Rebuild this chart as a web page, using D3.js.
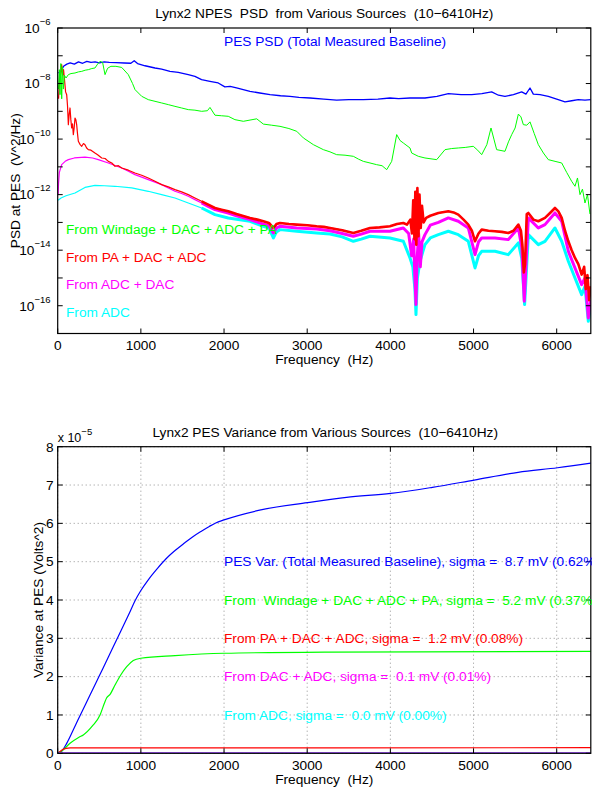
<!DOCTYPE html>
<html>
<head>
<meta charset="utf-8">
<script src="https://cdn.jsdelivr.net/npm/d3@7"></script>
<style>
html,body{margin:0;padding:0;background:#fff;}
svg{display:block;font-family:"Liberation Sans",Arial,Helvetica,sans-serif;}
text{white-space:pre;}
</style>
</head>
<body>
<div id="chart"></div>
<script>
// ---------------- DATA ----------------
// Top chart: PSD (V^2/Hz) vs frequency (Hz)
const pesPsdFreq = [10,40,70,110,150,200,250,300,350,400,450,500,560,620,700,800,880,920,960,1050,1170,1250,1350,1450,1570,1650,1730,1830,1930,2010,2073,2150,2312,2430,2553,2680,2793,2900,3034,3200,3354,3500,3675,3850,3995,4100,4236,4416,4560,4697,4850,4978,5100,5218,5300,5378,5480,5579,5630,5679,5719,5800,5899,6000,6100,6180,6260,6340,6410];
const pesPsd = [2.40e-8,2.82e-8,4.17e-8,5.01e-8,5.50e-8,5.01e-8,6.03e-8,5.37e-8,6.31e-8,5.75e-8,6.03e-8,5.50e-8,6.03e-8,5.75e-8,5.62e-8,5.50e-8,5.37e-8,6.61e-8,5.25e-8,4.37e-8,3.63e-8,3.31e-8,2.75e-8,2.51e-8,2.09e-8,1.82e-8,1.38e-8,1.20e-8,1.05e-8,7.59e-9,7.94e-9,6.92e-9,5.25e-9,4.57e-9,3.98e-9,3.63e-9,3.47e-9,3.16e-9,3.02e-9,2.75e-9,2.51e-9,2.63e-9,2.63e-9,2.75e-9,3.02e-9,2.88e-9,3.02e-9,3.02e-9,3.47e-9,4.37e-9,3.98e-9,3.98e-9,4.37e-9,5.01e-9,3.80e-9,3.47e-9,3.98e-9,5.01e-9,4.17e-9,6.92e-9,4.17e-9,3.98e-9,3.47e-9,2.75e-9,2.19e-9,2.40e-9,2.63e-9,2.51e-9,2.63e-9];

const windageFreq = [10,20,28,38,48,58,68,80,100,128,160,208,250,289,330,368,410,448,480,509,540,569,600,640,700,770,849,900,930,1010,1089,1170,1250,1330,1410,1490,1570,1650,1731,1800,1831,1891,1970,2051,2131,2232,2393,2473,2573,2673,2780,2874,2954,3074,3194,3274,3354,3455,3555,3615,3675,3755,3835,3900,3956,4016,4076,4116,4156,4236,4256,4336,4416,4557,4657,4737,4817,4900,4997,5050,5098,5160,5210,5245,5278,5378,5420,5459,5500,5539,5570,5599,5640,5679,5730,5779,5840,5899,5980,6060,6120,6180,6220,6250,6280,6310,6340,6370,6400];
const windagePsd = [6.31e-9,3.16e-8,3.98e-9,5.25e-8,2.82e-9,3.98e-8,6.31e-9,2.00e-8,1.58e-8,2.09e-8,2.29e-8,2.40e-8,2.63e-8,2.75e-8,3.02e-8,3.16e-8,3.47e-8,3.63e-8,5.01e-8,6.31e-8,5.75e-8,2.09e-8,3.55e-8,4.17e-8,4.17e-8,3.80e-8,2.09e-8,1.00e-8,6.03e-9,3.47e-9,2.63e-9,2.29e-9,2.00e-9,1.74e-9,1.51e-9,1.32e-9,1.15e-9,1.10e-9,1.00e-9,1.05e-9,1.38e-9,7.24e-10,6.92e-10,6.61e-10,5.01e-10,4.37e-10,5.37e-10,3.47e-10,3.16e-10,2.88e-10,2.40e-10,1.91e-10,1.10e-10,6.31e-11,4.17e-11,3.47e-11,2.75e-11,2.63e-11,2.40e-11,1.91e-11,1.58e-11,1.38e-11,1.20e-11,1.10e-11,7.94e-12,1.58e-11,1.45e-10,8.91e-11,7.24e-11,4.79e-11,3.16e-11,2.40e-11,2.09e-11,1.82e-11,4.17e-11,4.57e-11,4.79e-11,5.01e-11,5.50e-11,3.98e-11,2.75e-11,6.31e-11,2.51e-10,1.00e-10,4.17e-11,3.63e-11,7.94e-11,1.45e-10,2.51e-10,7.94e-10,6.31e-10,3.31e-10,3.16e-10,4.17e-10,1.58e-10,6.31e-11,3.16e-11,1.82e-11,1.58e-11,1.38e-11,6.31e-12,3.02e-12,2.00e-12,3.98e-12,1.00e-12,1.58e-12,5.01e-13,1.00e-12,2.00e-13];

const paFreq = [10,25,40,48,60,70,80,95,108,118,128,138,148,158,168,178,188,198,208,218,228,238,248,270,289,310,328,348,368,400,448,480,529,570,609,650,689,730,770,850,929,1010,1089,1170,1250,1330,1410,1490,1570,1650,1731,1810,1891,1970,2051,2150,2312,2400,2473,2540,2593,2630,2673,2780,2874,3000,3114,3200,3274,3420,3555,3650,3755,3870,3995,4080,4156,4200,4240,4260,4275,4290,4300,4312,4325,4338,4350,4365,4380,4400,4430,4480,4577,4697,4760,4817,4880,4937,4980,5018,5060,5098,5180,5258,5340,5418,5480,5539,5570,5587,5605,5619,5640,5659,5720,5779,5859,5920,5979,6020,6060,6100,6140,6180,6220,6260,6300,6330,6350,6370,6390,6410];
const paPsd = [2.82e-9,1.58e-8,2.51e-8,4.79e-8,2.00e-8,3.16e-8,1.58e-8,5.01e-9,3.98e-9,1.58e-9,3.31e-10,7.94e-10,1.32e-9,5.01e-10,2.51e-10,3.55e-10,1.45e-10,2.51e-10,5.75e-10,5.01e-10,3.31e-10,1.58e-10,8.32e-11,6.31e-11,5.50e-11,6.92e-11,6.31e-11,4.79e-11,4.17e-11,3.98e-11,3.16e-11,2.75e-11,2.09e-11,2.00e-11,1.58e-11,1.38e-11,1.05e-11,1.10e-11,9.12e-12,7.59e-12,6.03e-12,5.01e-12,3.98e-12,3.02e-12,2.29e-12,1.91e-12,1.51e-12,1.26e-12,1.00e-12,7.59e-13,5.75e-13,4.37e-13,3.31e-13,2.88e-13,2.51e-13,2.00e-13,1.45e-13,1.26e-13,1.10e-13,9.55e-14,6.31e-14,8.71e-14,9.55e-14,8.71e-14,8.32e-14,7.94e-14,7.24e-14,6.92e-14,6.31e-14,5.25e-14,4.17e-14,5.01e-14,6.31e-14,6.61e-14,7.24e-14,8.71e-14,9.55e-14,8.32e-14,1.26e-13,3.98e-14,6.31e-13,2.51e-14,1.26e-12,1.58e-14,1.74e-12,3.16e-14,1.00e-12,6.31e-14,3.98e-13,1.00e-13,1.45e-13,1.74e-13,2.19e-13,2.51e-13,2.29e-13,1.91e-13,1.26e-13,8.32e-14,5.01e-14,2.09e-14,3.98e-14,5.50e-14,5.01e-14,4.79e-14,4.57e-14,4.17e-14,5.01e-14,8.32e-14,5.01e-14,1.58e-14,1.58e-15,3.16e-15,2.00e-13,2.19e-13,1.26e-13,1.10e-13,1.45e-13,2.19e-13,3.31e-13,2.51e-13,1.45e-13,5.01e-14,2.09e-14,1.00e-14,5.25e-15,3.16e-15,1.32e-15,2.51e-15,3.98e-16,1.26e-15,1.58e-16,5.01e-16];

const dacFreq = [5,10,20,48,90,128,200,328,420,488,609,689,770,850,929,1010,1089,1170,1250,1330,1410,1490,1570,1650,1731,1810,1891,1970,2051,2150,2312,2473,2540,2593,2630,2673,2874,3114,3274,3420,3555,3650,3755,3995,4156,4220,4256,4280,4295,4308,4320,4340,4360,4380,4416,4480,4577,4697,4817,4937,5018,5060,5098,5258,5418,5539,5580,5610,5630,5659,5779,5859,5979,6060,6140,6220,6300,6340,6380,6410];
const dacPsd = [1.00e-12,2.51e-12,6.31e-12,1.20e-11,1.58e-11,1.82e-11,2.09e-11,2.24e-11,2.09e-11,1.82e-11,1.38e-11,1.12e-11,9.12e-12,6.92e-12,5.25e-12,4.27e-12,3.47e-12,2.82e-12,2.29e-12,1.74e-12,1.32e-12,1.10e-12,8.71e-13,6.61e-13,5.01e-13,3.80e-13,2.88e-13,2.51e-13,2.19e-13,1.74e-13,1.26e-13,8.71e-14,7.59e-14,4.17e-14,6.31e-14,7.24e-14,6.31e-14,5.75e-14,5.01e-14,3.98e-14,3.16e-14,3.80e-14,4.79e-14,4.79e-14,6.31e-14,3.98e-14,6.31e-15,2.51e-14,1.00e-15,1.10e-16,3.98e-15,3.98e-14,2.51e-15,2.00e-14,3.63e-14,7.94e-14,1.00e-13,1.45e-13,1.10e-13,6.31e-14,6.92e-15,2.00e-14,2.75e-14,2.75e-14,2.40e-14,6.31e-14,1.26e-14,1.45e-16,2.51e-15,1.45e-13,6.31e-14,8.32e-14,2.19e-13,1.10e-13,9.12e-15,2.29e-15,5.75e-16,1.00e-15,3.63e-17,1.58e-16];

const adcFreq = [5,40,100,208,328,448,560,689,890,1089,1250,1410,1570,1731,1891,2051,2312,2473,2540,2593,2630,2673,2874,3114,3274,3420,3555,3650,3755,3995,4156,4236,4270,4295,4308,4325,4356,4416,4480,4577,4697,4817,4937,5018,5060,5098,5258,5418,5539,5580,5614,5635,5659,5779,5859,5979,6060,6140,6220,6300,6340,6380,6410];
const adcPsd = [6.31e-13,7.59e-13,9.12e-13,1.15e-12,1.82e-12,2.14e-12,2.09e-12,2.00e-12,1.74e-12,1.32e-12,1.00e-12,7.59e-13,5.01e-13,3.31e-13,1.91e-13,1.45e-13,1.10e-13,7.24e-14,6.31e-14,2.75e-14,4.57e-14,5.50e-14,4.79e-14,4.17e-14,3.80e-14,3.02e-14,2.09e-14,2.51e-14,3.16e-14,2.75e-14,2.09e-14,5.25e-15,2.51e-15,3.98e-16,4.79e-17,1.00e-15,3.98e-15,1.58e-14,2.75e-14,3.63e-14,4.79e-14,3.63e-14,2.09e-14,2.29e-15,6.31e-15,9.12e-15,9.12e-15,6.92e-15,1.82e-14,5.01e-15,1.10e-16,1.58e-15,3.63e-14,1.58e-14,2.09e-14,6.31e-14,2.09e-14,3.98e-15,1.00e-15,2.51e-16,5.01e-16,2.75e-17,1.00e-16];

const psdTicks = [1e-16,1e-14,1e-12,1e-10,1e-8,1e-6];
const psdTickExp = ["\u221216","\u221214","\u221212","\u221210","\u22128","\u22126"];
const freqTicks = [0,1000,2000,3000,4000,5000,6000];

// Bottom chart: cumulative variance (units of 1e-5 Volts^2)
const pesVarFreq = [0,50,108,215,268,380,469,545,710,875,930,998,1100,1205,1300,1411,1520,1617,1723,1823,1900,2000,2442,3003,3473,4005,4505,5008,5536,6010,6410];
const pesVar = [0,0.06,0.26,0.74,0.98,1.48,1.88,2.22,2.97,3.72,3.98,4.24,4.56,4.84,5.07,5.29,5.48,5.64,5.79,5.92,6.01,6.09,6.35,6.54,6.68,6.78,6.94,7.13,7.33,7.45,7.57];
const windVarFreq = [0,60,148,256,308,420,509,560,589,630,689,760,830,909,998,1411,2000,3267,6410];
const windVar = [0,0.08,0.26,0.42,0.48,0.72,1.00,1.30,1.45,1.54,1.78,2.05,2.26,2.42,2.48,2.55,2.61,2.64,2.66];
const paVarFreq = [0,30,60,100,150,6410];
const paVar = [0,0.05,0.10,0.13,0.14,0.146];
const dacVarFreq = [0,6410];
const dacVar = [0,0.001];
const adcVarFreq = [0,6410];
const adcVar = [0,0];
const varTicks = [0,1,2,3,4,5,6,7,8];

const colors = {blue:"#0000ff", green:"#00ff00", red:"#ff0000", magenta:"#ff00ff", cyan:"#00ffff"};

// ---------------- LAYOUT ----------------
const W = 592, H = 791;
const svg = d3.select("#chart").append("svg").attr("width", W).attr("height", H);
const L = 57.7, R = 590.8;
const top1 = 28, bot1 = 333.5;
const top2 = 446.7, bot2 = 753.3;
const FS = 13.7;

const x = d3.scaleLinear().domain([0, 6410]).range([L, R]);
const yPsd = d3.scaleLog().domain([1e-17, 1e-6]).range([bot1, top1]);
const yVar = d3.scaleLinear().domain([0, 8]).range([bot2, top2]);

const defs = svg.append("defs");
defs.append("clipPath").attr("id","clip1").append("rect").attr("x",L).attr("y",top1).attr("width",R-L).attr("height",bot1-top1);
defs.append("clipPath").attr("id","clip2").append("rect").attr("x",L).attr("y",top2).attr("width",R-L).attr("height",bot2-top2);

function zip(fs, vs){ return fs.map((f,i)=>[f, vs[i]]); }

// ---------------- TOP CHART ----------------
const g1 = svg.append("g");
const lineP = d3.line().x(d=>x(d[0])).y(d=>yPsd(d[1]));
const p1 = g1.append("g").attr("clip-path","url(#clip1)");
function psdPath(fs, vs, col, w, minF){
  const pts = zip(fs, vs).filter(d=>d[0] >= (minF||0));
  p1.append("path").datum(pts).attr("d", lineP).attr("fill","none")
    .attr("stroke", col).attr("stroke-width", w).attr("stroke-linejoin","round");
}
psdPath(pesPsdFreq, pesPsd, colors.blue, 1.3);
psdPath(adcFreq, adcPsd, colors.cyan, 1.2);
psdPath(adcFreq, adcPsd, colors.cyan, 3, 1700);
psdPath(dacFreq, dacPsd, colors.magenta, 1.2);
psdPath(dacFreq, dacPsd, colors.magenta, 3, 1700);
psdPath(paFreq, paPsd, colors.red, 1.2);
psdPath(paFreq, paPsd, colors.red, 2.6, 1700);
psdPath(windageFreq, windagePsd, colors.green, 1);

// axes box
function box(g, t, b){
  g.append("rect").attr("x",L).attr("y",t).attr("width",R-L).attr("height",b-t)
    .attr("fill","none").attr("stroke","#000").attr("stroke-width",1.2);
}
box(g1, top1, bot1);
const tl = 5;
freqTicks.forEach(f=>{
  const xx = x(f);
  g1.append("line").attr("x1",xx).attr("x2",xx).attr("y1",bot1).attr("y2",bot1-tl).attr("stroke","#000");
  g1.append("line").attr("x1",xx).attr("x2",xx).attr("y1",top1).attr("y2",top1+tl).attr("stroke","#000");
  g1.append("text").attr("x",xx).attr("y",bot1+16.5).attr("text-anchor","middle").attr("font-size",FS).text(f);
});
const decades = d3.range(-17,-5).map(e=>Math.pow(10,e));
decades.forEach(v=>{
  const yy = yPsd(v);
  g1.append("line").attr("x1",L).attr("x2",L+tl).attr("y1",yy).attr("y2",yy).attr("stroke","#000");
  g1.append("line").attr("x1",R).attr("x2",R-tl).attr("y1",yy).attr("y2",yy).attr("stroke","#000");
});
psdTicks.forEach((v,i)=>{
  const yy = yPsd(v);
  const t = g1.append("text").attr("x",50.5).attr("y",yy+4.8).attr("text-anchor","end").attr("font-size",FS);
  t.append("tspan").text("10");
  t.append("tspan").attr("dy",-8).attr("font-size",9.5).text(psdTickExp[i]);
});
g1.append("text").attr("x",(L+R)/2).attr("y",17.5).attr("text-anchor","middle").attr("font-size",FS)
  .text("Lynx2 NPES  PSD  from Various Sources  (10\u22126410Hz)");
g1.append("text").attr("x",(L+R)/2).attr("y",364).attr("text-anchor","middle").attr("font-size",FS)
  .text("Frequency  (Hz)");
g1.append("text").attr("transform",`translate(20,${(top1+bot1)/2}) rotate(-90)`).attr("text-anchor","middle").attr("font-size",FS)
  .text("PSD at PES  (V^2/Hz)");
const leg1 = [
  {t:"PES PSD (Total Measured Baseline)", c:colors.blue, x:224, y:46},
  {t:"From Windage + DAC + ADC + PA", c:colors.green, x:66, y:234},
  {t:"From PA + DAC + ADC", c:colors.red, x:66, y:262},
  {t:"From ADC + DAC", c:colors.magenta, x:66, y:289},
  {t:"From ADC", c:colors.cyan, x:66, y:317}
];
leg1.forEach(d=>g1.append("text").attr("x",d.x).attr("y",d.y).attr("fill",d.c).attr("font-size",FS).text(d.t));

// ---------------- BOTTOM CHART ----------------
const g2 = svg.append("g");
freqTicks.forEach(f=>{
  g2.append("line").attr("x1",x(f)).attr("x2",x(f)).attr("y1",top2).attr("y2",bot2)
    .attr("stroke","#777").attr("stroke-width",0.8).attr("stroke-dasharray","1,3");
});
varTicks.forEach(v=>{
  g2.append("line").attr("x1",L).attr("x2",R).attr("y1",yVar(v)).attr("y2",yVar(v))
    .attr("stroke","#777").attr("stroke-width",0.8).attr("stroke-dasharray","1,3");
});
const lineV = d3.line().x(d=>x(d[0])).y(d=>yVar(d[1])).curve(d3.curveMonotoneX);
const p2 = g2.append("g").attr("clip-path","url(#clip2)");
function varPath(fs, vs, col, w, op){
  p2.append("path").datum(zip(fs,vs)).attr("d", lineV).attr("fill","none")
    .attr("stroke", col).attr("stroke-width", w).attr("stroke-opacity", op||1);
}
varPath(pesVarFreq, pesVar, colors.blue, 1.2);
varPath(windVarFreq, windVar, colors.green, 1.2);
varPath(paVarFreq, paVar, colors.red, 1.2);
varPath(adcVarFreq, adcVar, colors.cyan, 2.4);
varPath(dacVarFreq, dacVar, colors.magenta, 2.4, 0.65);

box(g2, top2, bot2);
freqTicks.forEach(f=>{
  const xx = x(f);
  g2.append("line").attr("x1",xx).attr("x2",xx).attr("y1",bot2).attr("y2",bot2-tl).attr("stroke","#000");
  g2.append("line").attr("x1",xx).attr("x2",xx).attr("y1",top2).attr("y2",top2+tl).attr("stroke","#000");
  g2.append("text").attr("x",xx).attr("y",bot2+16.5).attr("text-anchor","middle").attr("font-size",FS).text(f);
});
varTicks.forEach(v=>{
  const yy = yVar(v);
  g2.append("line").attr("x1",L).attr("x2",L+tl).attr("y1",yy).attr("y2",yy).attr("stroke","#000");
  g2.append("line").attr("x1",R).attr("x2",R-tl).attr("y1",yy).attr("y2",yy).attr("stroke","#000");
  g2.append("text").attr("x",53.5).attr("y",yy+4.8).attr("text-anchor","end").attr("font-size",FS).text(v);
});
const ex = g2.append("text").attr("x",L).attr("y",441.5).attr("font-size",12.5);
ex.append("tspan").text("x 10");
ex.append("tspan").attr("dy",-7).attr("font-size",9.5).text("\u22125");
g2.append("text").attr("x",(L+R)/2+1).attr("y",437.3).attr("text-anchor","middle").attr("font-size",FS)
  .text("Lynx2 PES Variance from Various Sources  (10\u22126410Hz)");
g2.append("text").attr("x",(L+R)/2).attr("y",784).attr("text-anchor","middle").attr("font-size",FS)
  .text("Frequency  (Hz)");
g2.append("text").attr("transform",`translate(43,${(top2+bot2)/2}) rotate(-90)`).attr("text-anchor","middle").attr("font-size",FS)
  .text("Variance at PES (Volts^2)");
const leg2 = [
  {t:"PES Var. (Total Measured Baseline), sigma =  8.7 mV (0.62%)", c:colors.blue, v:5},
  {t:"From  Windage + DAC + ADC + PA, sigma =  5.2 mV (0.37%)", c:colors.green, v:4},
  {t:"From PA + DAC + ADC, sigma =  1.2 mV (0.08%)", c:colors.red, v:3},
  {t:"From DAC + ADC, sigma =  0.1 mV (0.01%)", c:colors.magenta, v:2},
  {t:"From ADC, sigma =  0.0 mV (0.00%)", c:colors.cyan, v:1}
];
leg2.forEach(d=>g2.append("text").attr("x",224).attr("y",yVar(d.v)+4.8).attr("fill",d.c).attr("font-size",FS).text(d.t));
</script>
</body>
</html>
